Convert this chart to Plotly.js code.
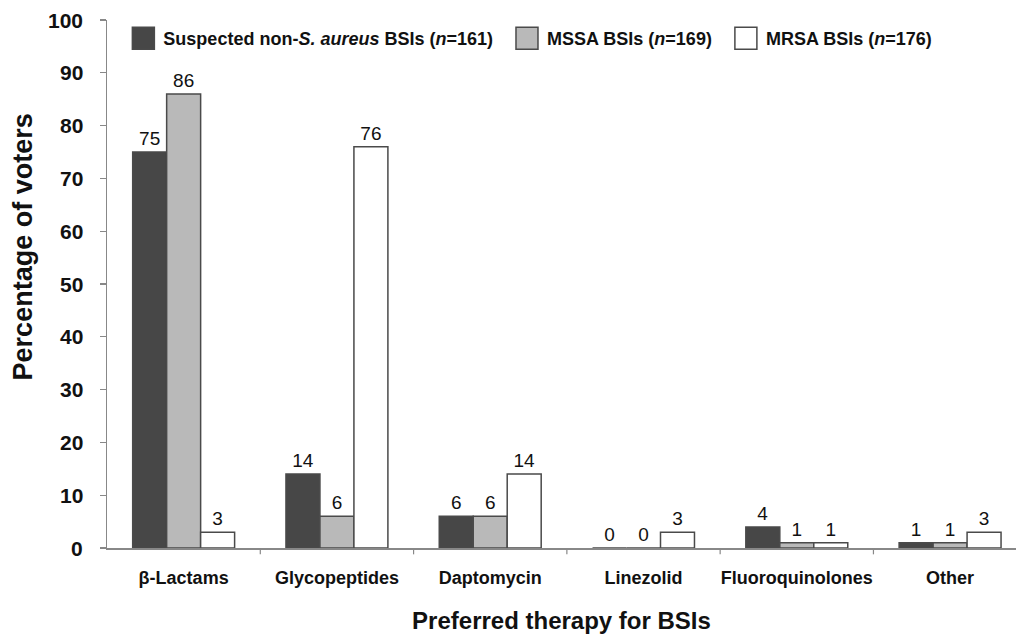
<!DOCTYPE html>
<html><head><meta charset="utf-8">
<script src="https://cdn.plot.ly/plotly-3.0.1.min.js"></script>
<style>body{margin:0;background:#fff}#c{width:1018px;height:635px}</style>
</head><body><div id="c"></div>
<script>
const categories = ["β-Lactams","Glycopeptides","Daptomycin","Linezolid","Fluoroquinolones","Other"];
const seriesNames = ["Suspected non-<i>S. aureus</i> BSIs (<i>n</i>=161)","MSSA BSIs (<i>n</i>=169)","MRSA BSIs (<i>n</i>=176)"];
const nonSA = [75,14,6,0,4,1];
const mssa = [86,6,6,0,1,1];
const mrsa = [3,76,14,3,1,3];
const yTicks = [0,10,20,30,40,50,60,70,80,90,100];

const fills = ["#474747","#b9b9b9","#ffffff"];
const vals = [nonSA,mssa,mrsa];
const traces = vals.map((v,i)=>({
  type:"bar", x:categories, y:v, name:seriesNames[i],
  marker:{color:fills[i], line:{color:"#4a4a4a", width:1.5}},
  text:v.map(String), textposition:"outside", cliponaxis:false,
  textfont:{family:"Liberation Sans, Arial, sans-serif", size:19, color:"#111"}
}));

const layout = {
  width:1018, height:635,
  margin:{l:107, r:2, t:20, b:87},
  paper_bgcolor:"#fff", plot_bgcolor:"#fff",
  barmode:"group", bargap:0.335, bargroupgap:0,
  font:{family:"Liberation Sans, Arial, sans-serif", color:"#111"},
  showlegend:true,
  legend:{orientation:"h", x:0.018, y:1.0, xanchor:"left", yanchor:"top",
    font:{size:18, weight:"bold", color:"#111"}, bgcolor:"rgba(0,0,0,0)", traceorder:"normal"},
  xaxis:{range:[-0.5,5.43], showline:true, linecolor:"#888", linewidth:1.5,
    ticks:"", showgrid:false, ticklabelposition:"outside", ticklabelstandoff:13,
    tickfont:{size:18, weight:"bold", color:"#111"},
    title:{text:"Preferred therapy for BSIs", font:{size:24, weight:"bold", color:"#111"}, standoff:25}},
  yaxis:{range:[0,100], tickvals:yTicks, showline:true, linecolor:"#888", linewidth:1.5,
    ticks:"outside", ticklen:6, tickcolor:"#888", tickwidth:1.2, showgrid:false, zeroline:false,
    showticklabels:false},
  annotations:[{text:"Percentage of voters", textangle:-90, xref:"paper", yref:"paper",
    x:-0.092, y:0.570, xanchor:"center", yanchor:"middle", showarrow:false,
    font:{size:27, weight:"bold", color:"#111"}}],
  shapes:[]
};
// y tick labels placed a little further out from the axis, as in the reference
yTicks.forEach(v=>{
  layout.annotations.push({text:String(v), xref:"paper", yref:"y", x:0, y:v,
    xanchor:"right", yanchor:"middle", xshift:-22, showarrow:false,
    font:{size:21, weight:"bold", color:"#111"}});
});
// category boundary ticks on x axis
for(let k=0;k<categories.length;k++){
  layout.shapes.push({type:"line", xref:"x", yref:"paper", x0:k+0.5, x1:k+0.5, y0:0, y1:-0.012, line:{color:"#888", width:1.2}});
}
Plotly.newPlot("c", traces, layout, {displayModeBar:false, staticPlot:true}).then(gd=>{
  gd.querySelectorAll(".legend .legendpoints path").forEach(p=>{
    p.setAttribute("d","M11,11H-11V-11H11Z");
  });
  gd.querySelectorAll(".legend [clip-path]").forEach(e=>e.removeAttribute("clip-path"));
  const extra = [0, 9, 18];
  gd.querySelectorAll(".legend g.traces").forEach((g,i)=>{
    const t = g.getAttribute("transform") || "";
    const m = t.match(/translate\(([-\d.e]+)[ ,]+([-\d.e]+)\)/);
    if(m) g.setAttribute("transform", "translate(" + (parseFloat(m[1]) + (extra[i]||0)) + "," + m[2] + ")");
  });
});
</script></body></html>
